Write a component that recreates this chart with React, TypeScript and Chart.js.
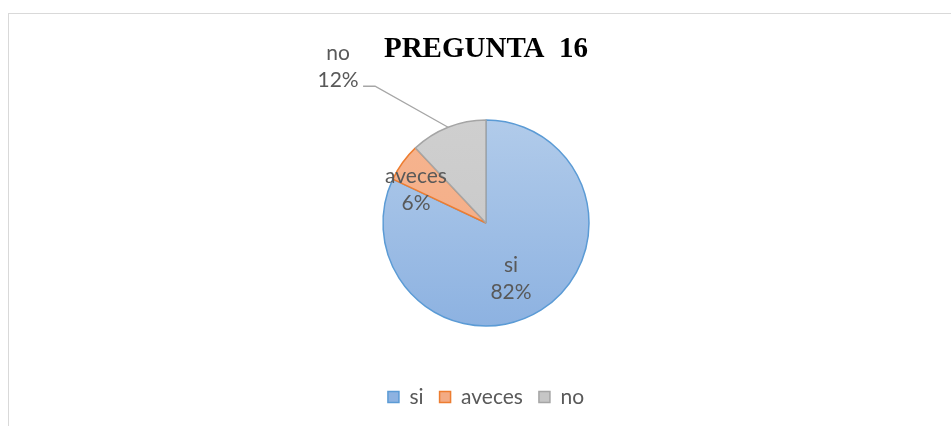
import React, { useEffect, useRef } from "react";
import { Chart, registerables } from "chart.js";

Chart.register(...registerables);

// ---- data ----
const categories = ["si", "aveces", "no"];
const values = [82, 6, 12];
const chartTitle = "PREGUNTA  16";

// ---- styles ----
const W = 951;
const H = 426;
const LABEL_FONT = "Lato, 'Open Sans', sans-serif";
const TEXT_COLOR = "#595959";
const PIE_RADIUS = 103;
const fillTop = ["#b1cbea", "#f6b48f", "#cfcfcf"];
const fillBottom = ["#8db2e1", "#f3ab84", "#c6c6c6"];
const borderColors = ["#5b9bd5", "#ed7d31", "#a5a5a5"];
const LINE_GAP = 27;

// where each data label sits, relative to its slice
const labelPlacement = [
  { kind: "inside", frac: 0.5, dx: -2.6, dy: 6 },
  { kind: "inside", frac: 0.75, dx: -7.5, dy: 5 },
  { kind: "outside", dx: -110, dy: -67.7, elbowDx: -73, elbowDy: -41, endDx: -85 },
];

const labelPlugin = {
  id: "pieLabels",
  afterDatasetsDraw(chart: any) {
    const ctx = chart.ctx;
    const meta = chart.getDatasetMeta(0);
    const total = values.reduce((a, b) => a + b, 0);
    meta.data.forEach((arc: any, i: number) => {
      const { x, y, startAngle, endAngle, outerRadius } = arc.getProps(
        ["x", "y", "startAngle", "endAngle", "outerRadius"],
        true
      );
      const mid = (startAngle + endAngle) / 2;
      const p: any = labelPlacement[i];
      let ax: number;
      let ay: number;
      if (p.kind === "inside") {
        const r = outerRadius * p.frac;
        ax = x + Math.cos(mid) * r + p.dx;
        ay = y + Math.sin(mid) * r + p.dy;
      } else {
        const ex = x + Math.cos(mid) * outerRadius;
        const ey = y + Math.sin(mid) * outerRadius;
        ctx.save();
        ctx.strokeStyle = "#a6a6a6";
        ctx.lineWidth = 1.3;
        ctx.beginPath();
        ctx.moveTo(ex, ey);
        ctx.lineTo(ex + p.elbowDx, ey + p.elbowDy);
        ctx.lineTo(ex + p.endDx, ey + p.elbowDy);
        ctx.stroke();
        ctx.restore();
        ax = ex + p.dx;
        ay = ey + p.dy;
      }
      const pct = Math.round((values[i] / total) * 100) + "%";
      ctx.save();
      ctx.font = `21px ${LABEL_FONT}`;
      ctx.fillStyle = TEXT_COLOR;
      ctx.textAlign = "center";
      ctx.textBaseline = "alphabetic";
      ctx.fillText(categories[i], ax, ay);
      ctx.fillText(pct, ax, ay + LINE_GAP);
      ctx.restore();
    });
  },
};

export default function App() {
  const canvasRef = useRef<HTMLCanvasElement | null>(null);

  useEffect(() => {
    const canvas = canvasRef.current;
    if (!canvas) return;
    const fill = (i: number) => (c: any) => {
      const chart = c.chart;
      const area = chart.chartArea;
      if (!area) return fillTop[i];
      const cy = (area.top + area.bottom) / 2;
      const g = chart.ctx.createLinearGradient(0, cy - PIE_RADIUS, 0, cy + PIE_RADIUS);
      g.addColorStop(0, fillTop[i]);
      g.addColorStop(1, fillBottom[i]);
      return g;
    };
    const chart = new Chart(canvas, {
      type: "pie",
      data: {
        labels: categories,
        datasets: [
          {
            data: values,
            backgroundColor: (c: any) => fill(c.dataIndex)(c),
            borderColor: borderColors,
            borderWidth: 1.5,
            radius: PIE_RADIUS,
          } as any,
        ],
      },
      options: {
        responsive: false,
        animation: false,
        events: [],
        layout: { padding: { left: 21, right: 0, top: 0, bottom: 8.5 } },
        plugins: {
          title: {
            display: true,
            text: chartTitle,
            color: "#000000",
            font: { family: "'Liberation Serif', 'Times New Roman', serif", size: 29, weight: "bold", lineHeight: 1.2 },
            padding: { top: 32, bottom: 8.7 },
          },
          legend: {
            display: true,
            position: "bottom",
            labels: {
              boxWidth: 11,
              boxHeight: 11,
              padding: 16,
              color: TEXT_COLOR,
              font: { family: LABEL_FONT, size: 21 },
            },
          },
          tooltip: { enabled: false },
        },
      },
      plugins: [labelPlugin],
    });
    return () => chart.destroy();
  }, []);

  return (
    <div style={{ position: "fixed", left: 0, top: 0, width: W, height: H, background: "#ffffff", overflow: "hidden" }}>
      <div
        style={{
          position: "absolute",
          left: 8,
          top: 13,
          width: 1000,
          height: 1000,
          borderLeft: "1.5px solid #d9d9d9",
          borderTop: "1.5px solid #d9d9d9",
        }}
      />
      <canvas ref={canvasRef} width={W} height={H} style={{ position: "absolute", left: 0, top: 0, width: W, height: H }} />
    </div>
  );
}
